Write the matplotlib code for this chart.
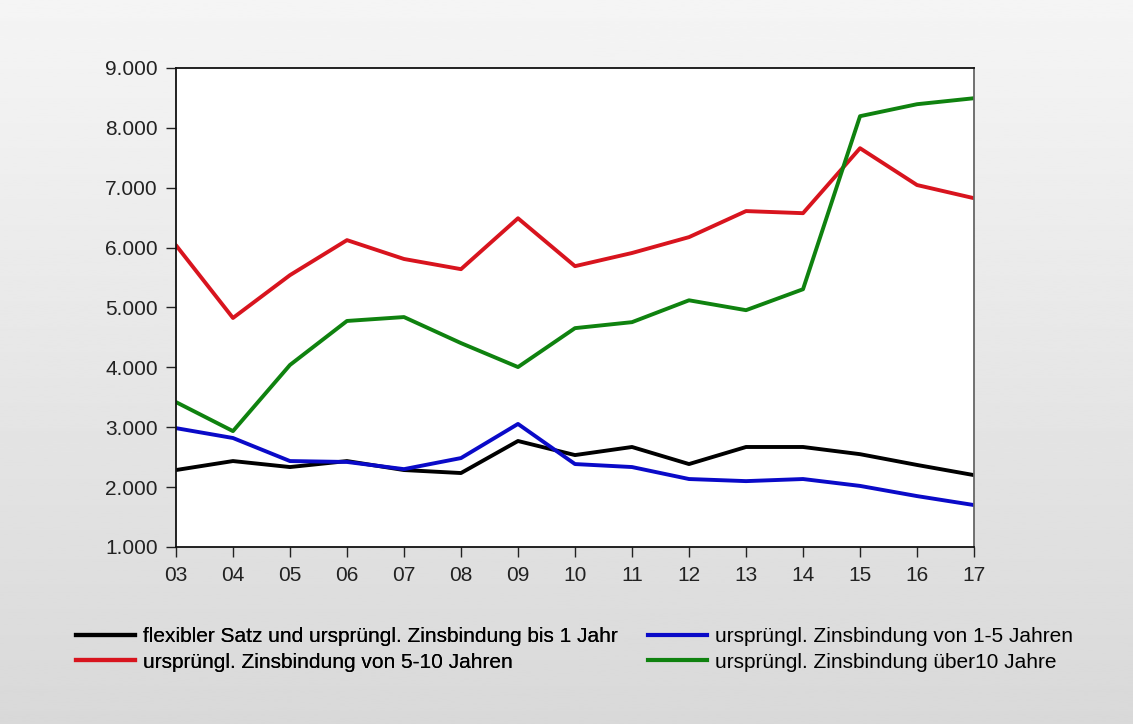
import matplotlib
matplotlib.use("Agg")
import matplotlib.pyplot as plt
import numpy as np
from matplotlib.lines import Line2D

jahre = ["03", "04", "05", "06", "07", "08", "09", "10", "11", "12", "13", "14", "15", "16", "17"]

flexibel = [2285, 2435, 2335, 2435, 2285, 2235, 2770, 2535, 2670, 2385, 2670, 2670, 2550, 2370, 2200]
von_1_5 = [2985, 2820, 2435, 2420, 2300, 2485, 3055, 2385, 2335, 2135, 2100, 2135, 2020, 1850, 1700]
von_5_10 = [6040, 4825, 5540, 6125, 5810, 5640, 6490, 5690, 5910, 6175, 6610, 6575, 7660, 7045, 6825]
ueber_10 = [3420, 2935, 4040, 4775, 4840, 4405, 4005, 4655, 4755, 5120, 4955, 5305, 8195, 8395, 8495]

etiketten = [
    "flexibler Satz und ursprüngl. Zinsbindung bis 1 Jahr",
    "ursprüngl. Zinsbindung von 1-5 Jahren",
    "ursprüngl. Zinsbindung von 5-10 Jahren",
    "ursprüngl. Zinsbindung über10 Jahre",
]
farben = ["#000000", "#0a0ac8", "#d8141e", "#0f820f"]

y_ticks = [1000, 2000, 3000, 4000, 5000, 6000, 7000, 8000, 9000]

plt.rcParams["font.family"] = ["Liberation Sans", "DejaVu Sans"]

fig = plt.figure(figsize=(11.33, 7.24), dpi=100)

# grauer Verlauf als Hintergrund
bg = fig.add_axes([0, 0, 1, 1], zorder=-10)
verlauf = np.linspace(0.96, 0.85, 256).reshape(-1, 1)
bg.imshow(verlauf, aspect="auto", cmap="gray", vmin=0, vmax=1, extent=[0, 1, 0, 1])
bg.axis("off")

ax = fig.add_axes([0.1553, 0.2445, 0.7044, 0.6616])
ax.set_facecolor("white")
x = np.arange(len(jahre))
serien = [flexibel, von_1_5, von_5_10, ueber_10]
for werte, farbe in zip(serien, farben):
    ax.plot(x, werte, color=farbe, lw=2.8, solid_joinstyle="round", solid_capstyle="round")

ax.set_xlim(0, len(jahre) - 1)
ax.set_ylim(1000, 9000)
ax.set_xticks(x)
ax.set_xticklabels(jahre)
ax.set_yticks(y_ticks)
ax.set_yticklabels([f"{v // 1000}.{v % 1000:03d}" for v in y_ticks])
ax.tick_params(direction="out", length=7, width=1.0, labelsize=15, colors="#222222")
ax.tick_params(axis="x", pad=7)
ax.tick_params(axis="y", pad=6)
for s in ["left", "bottom", "top"]:
    ax.spines[s].set_color("#111111")
ax.spines["right"].set_color("#666666")
for s in ax.spines.values():
    s.set_linewidth(1.3)

griffe = [Line2D([], [], color=f, lw=3) for f in farben]
opts = dict(loc="upper left", frameon=False, fontsize=15, handlelength=2.8,
            handletextpad=0.4, labelspacing=0.3, borderaxespad=0,
            bbox_transform=fig.transFigure)
leg1 = fig.legend([griffe[0], griffe[2]], [etiketten[0], etiketten[2]],
                  bbox_to_anchor=(0.060, 0.145), **opts)
leg2 = fig.legend([griffe[1], griffe[3]], [etiketten[1], etiketten[3]],
                  bbox_to_anchor=(0.565, 0.145), **opts)
fig.add_artist(leg1)

fig.savefig("out.png", dpi=100)
